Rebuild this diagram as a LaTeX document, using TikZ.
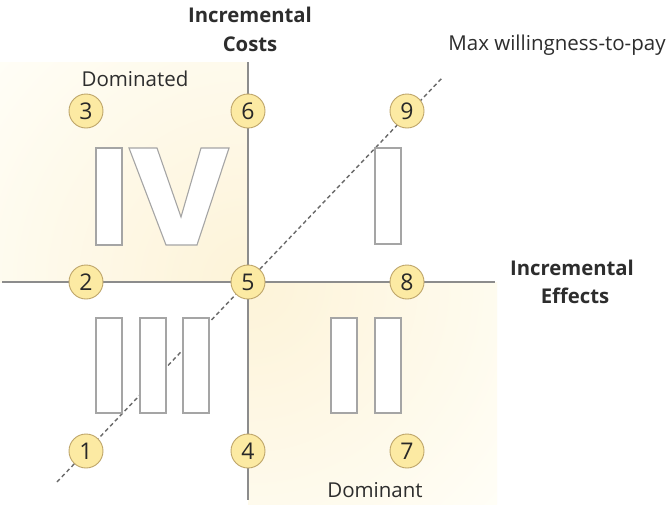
\documentclass[tikz,border=0pt]{standalone}
\usepackage{fontspec}
\setmainfont{Open Sans}
\begin{document}
\begin{tikzpicture}[x=1pt,y=-1pt,
  axisline/.style={draw={rgb,255:red,140;green,140;blue,140}, line width=1.6pt},
  wtpline/.style={draw={rgb,255:red,105;green,105;blue,105}, line width=1.4pt, dash pattern=on 4pt off 3pt},
  letterbox/.style={draw={rgb,255:red,165;green,165;blue,165}, fill=white, line width=1.1pt, line join=miter},
  numcircle/.style={circle, minimum size=34pt, inner sep=0pt, fill={rgb,255:red,252;green,234;blue,163},
     draw={rgb,255:red,190;green,165;blue,105}, line width=0.9pt, text={rgb,255:red,40;green,40;blue,40},
     font=\fontsize{23}{23}\selectfont},
  lbl/.style={text={rgb,255:red,45;green,45;blue,45}, font=\fontsize{20.5}{24}\selectfont, anchor=base, inner sep=0pt},
  blbl/.style={lbl, font=\fontsize{20.3}{24}\selectfont\bfseries}
]
\useasboundingbox (0,0) rectangle (672,504);
\fill[white] (0,0) rectangle (672,504);
% shaded quadrants
\begin{scope}
  \clip (0,62) rectangle (248,282);
  \shade[inner color={rgb,255:red,253;green,243;blue,216}, outer color={rgb,255:red,255;green,254;blue,247}] (248,282) circle (340);
\end{scope}
\begin{scope}
  \clip (248,282) rectangle (497,504);
  \shade[inner color={rgb,255:red,253;green,243;blue,216}, outer color={rgb,255:red,255;green,254;blue,247}] (248,282) circle (340);
\end{scope}
% axes
\coordinate (xl) at (2,282);
\coordinate (xr) at (495,282);
\coordinate (yt) at (248,62);
\coordinate (yb) at (248,500);
\draw[axisline] (xl) -- (xr);
\draw[axisline] (yt) -- (yb);
% willingness-to-pay line
\coordinate (wa) at (57,482);
\coordinate (wb) at (442,78);
\draw[wtpline] (wa) -- (wb);
% roman numerals
\draw[letterbox] (96,148) rectangle (122,245);
\draw[letterbox] (129,148) -- (157,148) -- (181,217) -- (201,148) -- (229,148) -- (197,245) -- (166,245) -- cycle;
\draw[letterbox] (375,148) rectangle (401,244);
\draw[letterbox] (96,318) rectangle (122,413);
\draw[letterbox] (140,318) rectangle (166,413);
\draw[letterbox] (183,318) rectangle (209,413);
\draw[letterbox] (331,318) rectangle (357,413);
\draw[letterbox] (375,318) rectangle (401,413);
% numbered circles
\node[numcircle] (c1) at (86,451) {1};
\node[numcircle] (c2) at (86,282) {2};
\node[numcircle] (c3) at (86,111) {3};
\node[numcircle] (c4) at (248,451) {4};
\node[numcircle] (c5) at (248,282) {5};
\node[numcircle] (c6) at (248,111) {6};
\node[numcircle] (c7) at (407,451) {7};
\node[numcircle] (c8) at (407,282) {8};
\node[numcircle] (c9) at (407,111) {9};
% labels
\node[blbl] (ic1) at (250,22) {Incremental};
\node[blbl] (ic2) at (250,51) {Costs};
\node[blbl] (ie1) at (572,275) {Incremental};
\node[blbl] (ie2) at (575,303) {Effects};
\node[lbl] (wtp) at (557,50) {Max willingness-to-pay};
\node[lbl] (dom) at (135,86) {Dominated};
\node[lbl] (dmt) at (375,497) {Dominant};
\end{tikzpicture}
\end{document}
